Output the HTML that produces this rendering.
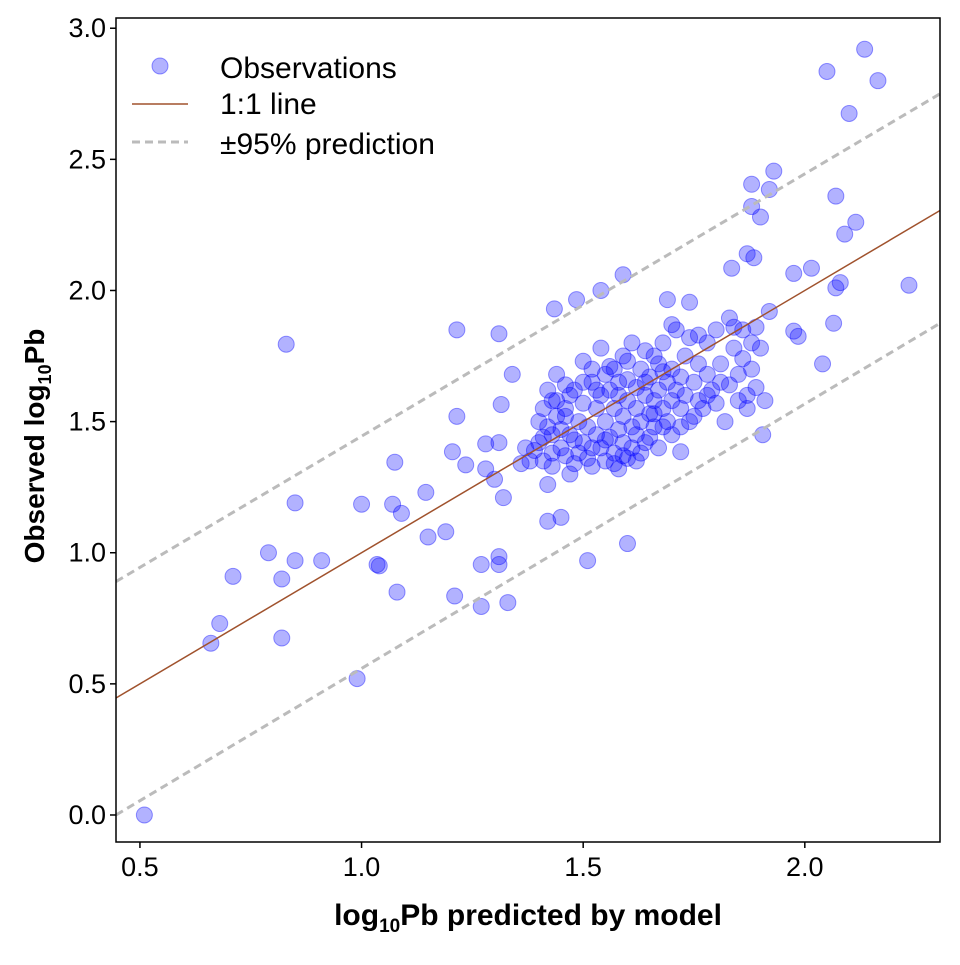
<!DOCTYPE html>
<html><head><meta charset="utf-8"><style>
body{margin:0;background:#fff}
svg text{font-family:"Liberation Sans",sans-serif}
</style></head><body>
<svg id="chart" width="960" height="960" xmlns="http://www.w3.org/2000/svg">
<g id="marks"></g>
</svg>
<script>
const obsX=[0.51,0.66,0.68,0.71,0.79,0.82,0.82,0.83,0.85,0.85,0.91,0.99,1.0,1.035,1.04,1.07,1.075,1.08,1.09,1.145,1.15,1.19,1.205,1.21,1.215,1.215,1.235,1.27,1.27,1.28,1.28,1.30,1.31,1.31,1.31,1.31,1.315,1.32,1.33,1.34,1.42,1.45,1.435,1.485,1.54,1.51,1.59,1.60,1.69,1.74,1.72,1.83,1.835,1.88,1.88,1.87,1.885,1.90,1.92,1.93,1.92,1.905,1.975,1.975,1.985,2.015,2.04,2.05,2.07,2.07,2.065,2.08,2.09,2.10,2.115,2.135,2.165,2.235,
1.40,1.40,1.41,1.41,1.42,1.42,1.43,1.43,1.43,1.44,1.44,1.45,1.46,1.46,1.47,1.47,1.48,1.48,1.49,1.49,1.50,1.50,1.50,1.51,1.51,1.52,1.52,1.53,1.53,1.54,1.54,1.54,1.55,1.55,1.55,1.56,1.56,1.57,1.57,1.57,1.58,1.58,1.58,1.59,1.59,1.59,1.60,1.60,1.60,1.61,1.61,1.61,1.62,1.62,1.62,1.63,1.63,1.63,1.64,1.64,1.65,1.65,1.65,1.66,1.66,1.67,1.67,1.67,1.68,1.68,1.69,1.69,1.70,1.70,1.70,1.71,1.71,1.72,1.72,1.73,1.73,1.74,1.74,1.75,1.76,1.76,1.77,1.78,1.78,1.79,1.80,1.80,1.81,1.82,1.83,1.84,1.85,1.85,1.86,1.86,1.87,1.87,1.88,1.88,1.89,1.89,1.90,1.91,1.84,1.76,1.70,1.66,1.60,1.56,1.52,1.47,1.44,1.42,1.45,1.48,1.52,1.55,1.57,1.59,1.62,1.64,1.66,1.68,1.72,1.75,1.78,1.81,1.68,1.64,1.58,1.53,1.50,1.46,1.38,1.36,1.39,1.37,1.41,1.43,1.46];
const obsY=[0.0,0.655,0.73,0.91,1.0,0.90,0.675,1.795,1.19,0.97,0.97,0.52,1.185,0.955,0.95,1.185,1.345,0.85,1.15,1.23,1.06,1.08,1.385,0.835,1.52,1.85,1.335,0.795,0.955,1.32,1.415,1.28,0.985,1.835,0.955,1.42,1.565,1.21,0.81,1.68,1.12,1.135,1.93,1.965,2.0,0.97,2.06,1.035,1.965,1.955,1.385,1.895,2.085,2.405,2.32,2.14,2.125,2.28,2.385,2.455,1.92,1.45,2.065,1.845,1.825,2.085,1.72,2.835,2.36,2.01,1.875,2.03,2.215,2.675,2.26,2.92,2.80,2.02,
1.50,1.42,1.55,1.35,1.26,1.62,1.38,1.45,1.33,1.52,1.68,1.40,1.37,1.55,1.30,1.45,1.34,1.62,1.50,1.38,1.57,1.42,1.73,1.36,1.48,1.65,1.33,1.45,1.55,1.40,1.60,1.78,1.35,1.50,1.68,1.44,1.62,1.38,1.55,1.70,1.47,1.32,1.60,1.52,1.42,1.75,1.36,1.58,1.66,1.48,1.40,1.80,1.55,1.63,1.45,1.70,1.50,1.38,1.60,1.77,1.53,1.44,1.67,1.58,1.48,1.72,1.62,1.40,1.55,1.80,1.65,1.50,1.58,1.70,1.45,1.62,1.85,1.55,1.67,1.60,1.75,1.50,1.82,1.65,1.58,1.72,1.55,1.80,1.68,1.62,1.85,1.57,1.72,1.50,1.64,1.78,1.58,1.68,1.85,1.74,1.60,1.55,1.80,1.70,1.86,1.63,1.78,1.58,1.86,1.83,1.87,1.75,1.73,1.71,1.70,1.60,1.58,1.48,1.47,1.43,1.40,1.43,1.34,1.37,1.35,1.42,1.53,1.48,1.48,1.52,1.60,1.65,1.69,1.65,1.65,1.62,1.65,1.52,1.35,1.34,1.39,1.40,1.44,1.58,1.64];
const bandX=[0.446,2.305];
const upperY=[0.89,2.75];
const lowerY=[0.0,1.875];
const lineX=[0.446,2.305];
const xTicks=[0.5,1.0,1.5,2.0];
const xTickLabels=["0.5","1.0","1.5","2.0"];
const yTicks=[0,0.5,1,1.5,2,2.5,3];
const yTickLabels=["0.0","0.5","1.0","1.5","2.0","2.5","3.0"];

const L=116,R=940,T=18,B=842;
const x0=0.446,x1=2.305,y0=-0.103,y1=3.039;
const sx=v=>L+(v-x0)/(x1-x0)*(R-L);
const sy=v=>B-(v-y0)/(y1-y0)*(B-T);
const NS="http://www.w3.org/2000/svg";
const svg=document.getElementById('chart');
const g=document.getElementById('marks');
function mk(tag,attrs,parent){const e=document.createElementNS(NS,tag);for(const k in attrs)e.setAttribute(k,attrs[k]);(parent||svg).appendChild(e);return e;}

for(let i=0;i<obsX.length;i++){
 const c=mk('circle',{cx:sx(obsX[i]),cy:sy(obsY[i]),r:8,fill:'rgba(0,0,255,0.3)',stroke:'rgba(0,0,255,0.4)','stroke-width':1},g);
 
 
}
const one=mk('line',{x1:sx(lineX[0]),y1:sy(lineX[0]),x2:sx(lineX[1]),y2:sy(lineX[1]),stroke:'#a0522d','stroke-width':1.5},g);


const up=mk('line',{x1:sx(bandX[0]),y1:sy(upperY[0]),x2:sx(bandX[1]),y2:sy(upperY[1]),stroke:'#bbb','stroke-width':3,'stroke-dasharray':'8,5'},g);


const lo=mk('line',{x1:sx(bandX[0]),y1:sy(lowerY[0]),x2:sx(bandX[1]),y2:sy(lowerY[1]),stroke:'#bbb','stroke-width':3,'stroke-dasharray':'8,5'},g);



const frame=mk('rect',{x:L,y:T,width:R-L,height:B-T,fill:'none',stroke:'#000','stroke-width':1.5});



xTicks.forEach((v,i)=>{
 mk('line',{x1:sx(v),x2:sx(v),y1:B,y2:B+6,stroke:'#000','stroke-width':1.5});
 const t=mk('text',{x:sx(v),y:B+34,'text-anchor':'middle','font-size':27});
 t.textContent=xTickLabels[i];
 
 
});
yTicks.forEach((v,i)=>{
 mk('line',{x1:L-6,x2:L,y1:sy(v),y2:sy(v),stroke:'#000','stroke-width':1.5});
 const t=mk('text',{x:L-10,y:sy(v)+9,'text-anchor':'end','font-size':27});
 t.textContent=yTickLabels[i];
 
 
});
</script>
<svg style="position:absolute;left:0;top:0" width="960" height="960" xmlns="http://www.w3.org/2000/svg">
<text x="528" y="925" text-anchor="middle" font-size="30" font-weight="bold" font-family="Liberation Sans">log<tspan font-size="19" dy="7">10</tspan><tspan dy="-7">Pb predicted by model</tspan></text>
<text transform="translate(44,446) rotate(-90)" text-anchor="middle" font-size="28" font-weight="bold" font-family="Liberation Sans">Observed log<tspan font-size="18" dy="7">10</tspan><tspan dy="-7">Pb</tspan></text>
<g font-family="Liberation Sans" font-size="30">
<circle cx="160" cy="66" r="8" fill="rgba(0,0,255,0.3)" stroke="rgba(0,0,255,0.4)"/>
<text x="220" y="78">Observations</text>
<line x1="132" x2="188" y1="104" y2="104" stroke="#a0522d" stroke-width="1.5"/>
<text x="220" y="114">1:1 line</text>
<line x1="132" x2="188" y1="142" y2="142" stroke="#bbb" stroke-width="3" stroke-dasharray="8,5"/>
<text x="220" y="154">±95% prediction</text>
</g>
</svg>
</body></html>
